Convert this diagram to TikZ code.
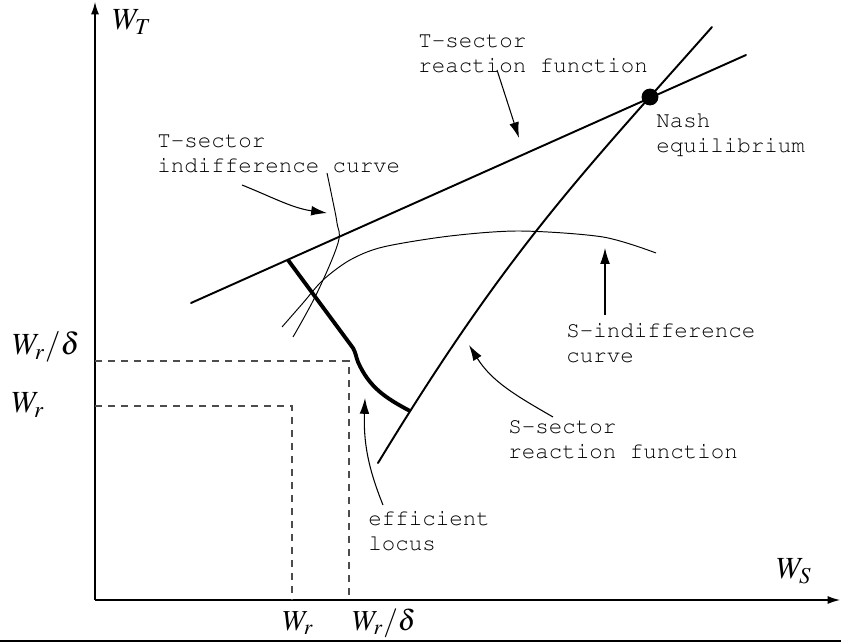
\documentclass[tikz,border=0pt]{standalone}
\usepackage{mathptmx}
\usepackage[T1]{fontenc}
\usepackage{fontspec}
\newcommand\courtext{\fontencoding{T1}\fontfamily{pcr}\selectfont}
\usetikzlibrary{arrows.meta}
\tikzset{
  axis/.style={line width=0.7pt, -{Latex[length=7pt,width=4.5pt]}},
  reactline/.style={line width=1.1pt, line cap=round},
  indiffcurve/.style={line width=0.55pt},
  efflocus/.style={line width=2.2pt, line join=round},
  guideline/.style={line width=0.6pt, draw=black!70, dash pattern=on 4pt off 3.4pt},
  pointer/.style={line width=0.6pt, -{Latex[length=9pt,width=5.5pt]}},
  tag/.style={font=\courtext\fontsize{12.8}{14.2}\selectfont, align=left, anchor=north west, inner sep=0pt},
  axlabel/.style={font=\fontsize{17.5}{20}\selectfont, inner sep=0pt},
  ticklabel/.style={font=\fontsize{16.5}{19}\selectfont, inner sep=0pt},
}

\begin{document}
\begin{tikzpicture}[x=0.02cm, y=0.02cm]
\useasboundingbox (0,0) rectangle (841,643);
% axes
\coordinate (O) at (95,43);
\coordinate (ytop) at (95,641);
\coordinate (xend) at (840,43);
\draw[axis] (O) -- (ytop);
\draw[axis] (O) -- (xend);
\node[axlabel] (wt) at (132,621) {$W_T$};
\node[axlabel] (ws) at (794,72) {$W_S$};
% reservation wage guides
\coordinate (wrd) at (349,282);
\coordinate (wr) at (292,237);
\draw[guideline] (O |- wrd) -- (wrd) -- (wrd |- O);
\draw[guideline] (O |- wr) -- (wr) -- (wr |- O);
\node[axlabel] (wrdy) at (46,296) {$W_r/\delta$};
\node[axlabel] (wry) at (28,238) {$W_r$};
\node[ticklabel] (wrx) at (298,20) {$W_r$};
\node[ticklabel] (wrdx) at (384,20) {$W_r/\delta$};
% reaction functions
\coordinate (tlo) at (191,340);
\coordinate (thi) at (746,588);
\coordinate (nash) at (650,546);
\coordinate (slo) at (378,180);
\coordinate (shi) at (712,616);
\coordinate (effA) at (288,383);
\coordinate (effB) at (353,295);
\coordinate (effC) at (358,281);
\coordinate (effD) at (410,232);
\draw[reactline] (tlo) -- (thi);
\draw[reactline] (slo) .. controls (508,394) and (582,469) .. (shi);
% indifference curves
\draw[indiffcurve] plot[smooth, tension=0.6] coordinates {(327,470) (332,446) (337,420) (338,400) (317,350) (293,306)};
\draw[indiffcurve] plot[smooth] coordinates {(282,316) (303,340) (323,363) (350,383) (383,396) (450,407) (520,412) (603,406) (656,390)};
% efficient locus
\draw[efflocus] (effA) -- (effB) to[out=-60,in=112] (effC) to[out=-66,in=152] (effD);
\node[circle, fill, inner sep=0pt, minimum size=9.6pt] (nashdot) at (nash) {};
% labels
\node[tag] (trf) at (418,608) {T-sector\\reaction function};
\node[tag] (neq) at (656,530) {Nash\\equilibrium};
\node[tag] (tic) at (157,508) {T-sector\\indifference curve};
\node[tag] (sic) at (566,320) {S-indifference\\curve};
\node[tag] (srf) at (508,223) {S-sector\\reaction function};
\node[tag] (eff) at (368,132) {efficient\\locus};
% pointers
\coordinate (trfTail) at (497,573);
\coordinate (trfTip) at (519,505);
\coordinate (ticTail) at (242,458);
\coordinate (ticTip) at (327,430);
\coordinate (sicTail) at (605,328);
\coordinate (sicTip) at (605,395);
\coordinate (srfTail) at (553,226);
\coordinate (srfTip) at (469,298);
\coordinate (effTail) at (383,138);
\coordinate (effTip) at (365,245);
\draw[pointer] (trfTail) -- (trfTip);
\draw[pointer] (ticTail) to[out=-22,in=172] (ticTip);
\draw[pointer] (sicTail) -- (sicTip);
\draw[pointer] (srfTail) to[out=150,in=-58] (srfTip);
\draw[pointer] (effTail) to[out=112,in=-92] (effTip);
% frame line
\draw[line width=1.2pt] (0,2) -- (841,2);
\end{tikzpicture}
\end{document}
